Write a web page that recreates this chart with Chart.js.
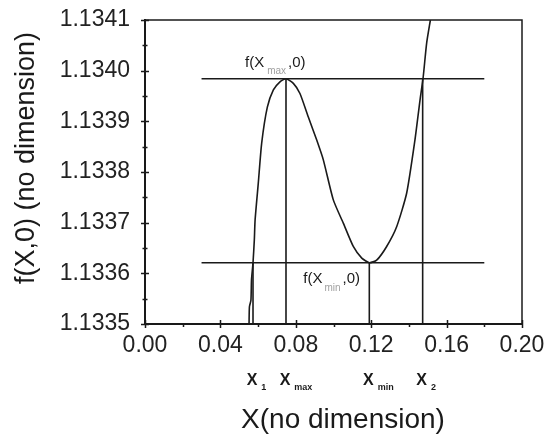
<!DOCTYPE html>
<html>
<head>
<meta charset="utf-8">
<script src="https://cdn.jsdelivr.net/npm/chart.js@4.4.0/dist/chart.umd.min.js"></script>
<style>
  html, body { margin: 0; padding: 0; background: #fff; }
  #wrap { width: 546px; height: 440px; }
</style>
</head>
<body>
<div id="wrap"><canvas id="chart"></canvas></div>
<script>
// curve f(X,0)
const curveX = [0.0552, 0.0554, 0.0562, 0.0565, 0.0573, 0.0580, 0.0584, 0.0601, 0.0619, 0.0649,
    0.0681, 0.0716, 0.0748, 0.0787, 0.0822, 0.0866, 0.0911, 0.0946, 0.0999, 0.1052,
    0.1105, 0.1150, 0.1190, 0.1229, 0.1282, 0.1335, 0.1388, 0.1432, 0.1459, 0.1476,
    0.1494, 0.1514];
const curveY = [1.133500, 1.133534, 1.133547, 1.133587, 1.133621, 1.133666, 1.133705, 1.133778, 1.133857, 1.133928,
    1.133962, 1.133978, 1.133984, 1.133975, 1.133955, 1.133909, 1.133863, 1.133824, 1.133745, 1.133699,
    1.133653, 1.133630, 1.133621, 1.133626, 1.133653, 1.133692, 1.133758, 1.133863, 1.133942, 1.133988,
    1.134054, 1.134100];

const fMax = 1.133984, fMin = 1.133621;
const hLineX = [0.03, 0.18];
const markerX = [0.0573, 0.0748, 0.1190, 0.1473];   // X1, Xmax, Xmin, X2
const markerTop = [fMin, fMax, fMin, fMax];
const markerSub = ['1', 'max', 'min', '2'];

const xMinAxis = 0, xMaxAxis = 0.20, xStep = 0.02;
const yMinAxis = 1.1335, yMaxAxis = 1.1341, yStep = 0.00005;

const ink = '#1a1a1a';
const FONT = "'Liberation Sans', Arial, sans-serif";

function pts(xs, ys) {
    return xs.map((v, i) => ({x: v, y: ys[i]}));
}

function isMajor(v, min, step) {
    return Math.round((v - min) / step) % 2 === 0;
}

let datasets = [];
datasets.push({data: pts(curveX, curveY), borderWidth: 1.6, tension: 0.2});
datasets.push({data: pts(hLineX, [fMax, fMax]), borderWidth: 1.6});
datasets.push({data: pts(hLineX, [fMin, fMin]), borderWidth: 1.6});
for (let i = 0; i < markerX.length; i++) {
    datasets.push({data: pts([markerX[i], markerX[i]], [yMinAxis, markerTop[i]]), borderWidth: 1.6});
}
datasets.forEach(d => {
    d.showLine = true;
    d.borderColor = ink;
    d.pointRadius = 0;
    d.fill = false;
});

function drawRuns(ctx, x, y, runs) {
    runs.forEach(([txt, font, color, dx, dy]) => {
        ctx.font = font;
        ctx.fillStyle = color;
        x += dx;
        ctx.fillText(txt, x, y + dy);
        x += ctx.measureText(txt).width;
    });
}

const extras = {
    id: 'extras',
    afterDraw(chart) {
        const {ctx, chartArea: a, scales: {x, y}} = chart;
        ctx.save();
        ctx.strokeStyle = ink;
        ctx.lineWidth = 1.5;
        ctx.strokeRect(a.left, a.top, a.right - a.left, a.bottom - a.top);

        // tick marks, majors cross the axis
        ctx.beginPath();
        x.ticks.forEach(t => {
            const px = Math.round(x.getPixelForValue(t.value)) + 0.5;
            if (isMajor(t.value, xMinAxis, xStep)) {
                ctx.moveTo(px, a.bottom - 4); ctx.lineTo(px, a.bottom + 4);
            } else {
                ctx.moveTo(px, a.bottom); ctx.lineTo(px, a.bottom + 3);
            }
        });
        y.ticks.forEach(t => {
            const py = Math.round(y.getPixelForValue(t.value)) + 0.5;
            const len = isMajor(t.value, yMinAxis, yStep) ? 4 : 2.5;
            ctx.moveTo(a.left - len, py); ctx.lineTo(a.left + len, py);
        });
        ctx.stroke();

        ctx.textAlign = 'left';
        ctx.textBaseline = 'alphabetic';

        // f(Xmax,0) and f(Xmin,0)
        const mainF = `15px ${FONT}`, subF = `10px ${FONT}`;
        drawRuns(ctx, x.getPixelForValue(markerX[1]) - 41, y.getPixelForValue(fMax) - 12, [
            ['f(X', mainF, ink, 0, 0], ['max', subF, '#a0a0a0', 3, 7], [',0)', mainF, ink, 2, 0]
        ]);
        drawRuns(ctx, x.getPixelForValue(markerX[2]) - 66, y.getPixelForValue(fMin) + 20, [
            ['f(X', mainF, ink, 0, 0], ['min', subF, '#a0a0a0', 2, 8], [',0)', mainF, ink, 2, 0]
        ]);

        // X1, Xmax, Xmin, X2 under the axis
        const bigF = `bold 16px ${FONT}`;
        for (let i = 0; i < markerX.length; i++) {
            ctx.font = bigF;
            const w = ctx.measureText('X').width;
            const px = x.getPixelForValue(markerX[i]) - w / 2 - 1;
            drawRuns(ctx, px, 385, [
                ['X', bigF, ink, 0, 0], [markerSub[i], `bold 9px ${FONT}`, ink, 4, 5]
            ]);
        }

        // axis titles
        ctx.fillStyle = ink;
        ctx.font = `28px ${FONT}`;
        ctx.textAlign = 'center';
        ctx.fillText('X(no dimension)', 343, 428);
        ctx.save();
        ctx.translate(34, 158);
        ctx.rotate(-Math.PI / 2);
        ctx.font = `27px ${FONT}`;
        ctx.fillText('f(X,0) (no dimension)', 0, 0);
        ctx.restore();

        ctx.restore();
    }
};

new Chart(document.getElementById('chart'), {
    type: 'scatter',
    data: {datasets: datasets},
    plugins: [extras],
    options: {
        responsive: true,
        maintainAspectRatio: false,
        animation: false,
        layout: {padding: {top: 20, right: 24, left: 0, bottom: 0}},
        plugins: {legend: {display: false}, tooltip: {enabled: false}},
        scales: {
            x: {
                type: 'linear',
                min: xMinAxis,
                max: xMaxAxis,
                afterFit: (s) => { s.height = 116; s.paddingLeft = 0; s.paddingRight = 0; },
                grid: {display: false, drawTicks: false},
                border: {display: true, color: ink, width: 2},
                ticks: {
                    stepSize: xStep,
                    autoSkip: false,
                    maxRotation: 0,
                    padding: 8,
                    color: '#222',
                    font: {family: FONT, size: 23},
                    callback: (v) => isMajor(v, xMinAxis, xStep) ? v.toFixed(2) : ''
                }
            },
            y: {
                type: 'linear',
                min: yMinAxis,
                max: yMaxAxis,
                afterFit: (s) => { s.width = 145; s.paddingTop = 0; s.paddingBottom = 0; },
                grid: {display: false, drawTicks: false},
                border: {display: true, color: ink, width: 2},
                ticks: {
                    stepSize: yStep,
                    autoSkip: false,
                    padding: 15,
                    color: '#222',
                    font: {family: FONT, size: 23},
                    callback: (v) => isMajor(v, yMinAxis, yStep) ? v.toFixed(4) : ''
                }
            }
        }
    }
});
</script>
</body>
</html>
